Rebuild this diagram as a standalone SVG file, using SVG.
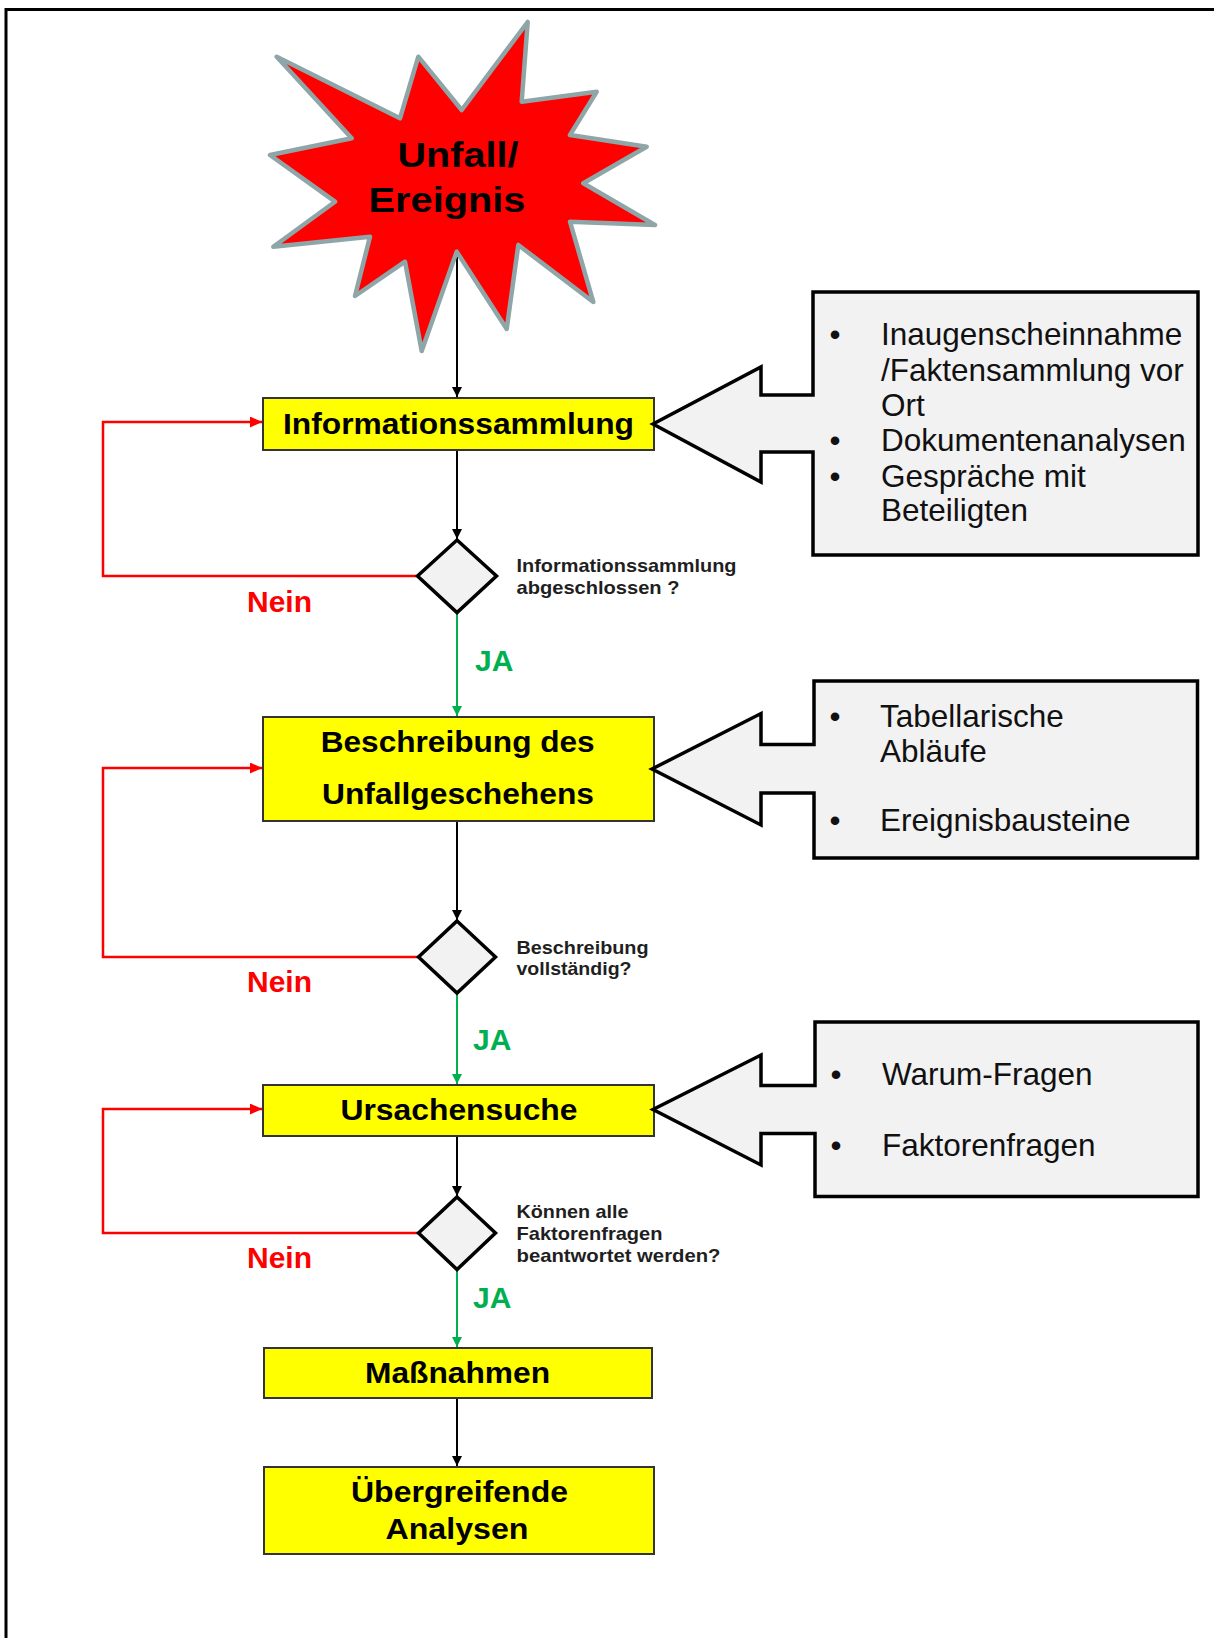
<svg xmlns="http://www.w3.org/2000/svg" width="1214" height="1638" viewBox="0 0 1214 1638">
  <style>
    text { font-family: "Liberation Sans", Arial, sans-serif; }
    .step { fill: #FFFF00; stroke: #333333; stroke-width: 2; }
    .step-label { font-weight: bold; font-size: 29px; fill: #000; text-anchor: middle; }
    .decision { fill: #F2F2F2; stroke: #000; stroke-width: 3.5; stroke-linejoin: miter; }
    .question { font-weight: bold; font-size: 18.5px; fill: #1f1f1f; }
    .callout { fill: #F2F2F2; stroke: #000; stroke-width: 3.5; stroke-linejoin: miter; }
    .note { font-size: 31.5px; fill: #111; }
    .bullet { font-size: 31.5px; fill: #111; text-anchor: middle; }
    .flow { fill: none; stroke: #000; stroke-width: 2; marker-end: url(#head-black); }
    .yes { fill: none; stroke: #00B050; stroke-width: 2; marker-end: url(#head-green); }
    .no { fill: none; stroke: #FF0000; stroke-width: 2.5; marker-end: url(#head-red); }
    .no-label { font-weight: bold; font-size: 30px; fill: #FF0000; }
    .yes-label { font-weight: bold; font-size: 30px; fill: #00B050; }
  </style>
  <defs>
    <marker id="head-black" markerUnits="userSpaceOnUse" markerWidth="10" markerHeight="10" refX="10" refY="5" orient="auto">
      <path d="M0,0 L10,5 L0,10 Z" fill="#000"/>
    </marker>
    <marker id="head-green" markerUnits="userSpaceOnUse" markerWidth="10" markerHeight="10" refX="10" refY="5" orient="auto">
      <path d="M0,0 L10,5 L0,10 Z" fill="#00B050"/>
    </marker>
    <marker id="head-red" markerUnits="userSpaceOnUse" markerWidth="12" markerHeight="11" refX="12" refY="5.5" orient="auto">
      <path d="M0,0 L12,5.5 L0,11 Z" fill="#FF0000"/>
    </marker>
  </defs>

  <rect width="1214" height="1638" fill="#FFFFFF"/>
  <!-- page frame: only top and left edges fall inside the canvas -->
  <path d="M6,1638 V9.5 H1214" fill="none" stroke="#000" stroke-width="3"/>

  <!-- connectors -->
  <g id="connectors">
    <path class="flow" d="M457,252 V397"/>
    <path class="flow" d="M457,451 V539"/>
    <path class="yes" d="M457,613 V716"/>
    <path class="flow" d="M457,822 V920"/>
    <path class="yes" d="M457,994 V1084"/>
    <path class="flow" d="M457,1137 V1196"/>
    <path class="yes" d="M457,1270 V1347"/>
    <path class="flow" d="M457,1399 V1466"/>

    <path class="no" d="M418,576 H103 V422 H262"/>
    <path class="no" d="M419,957 H103 V768 H262"/>
    <path class="no" d="M419,1233 H103 V1109 H262"/>

    <text class="no-label" x="247" y="612">Nein</text>
    <text class="no-label" x="247" y="992">Nein</text>
    <text class="no-label" x="247" y="1268">Nein</text>
    <text class="yes-label" x="475" y="671">JA</text>
    <text class="yes-label" x="473" y="1050">JA</text>
    <text class="yes-label" x="473" y="1308">JA</text>
  </g>

  <!-- start event: explosion shape -->
  <g id="start">
    <polygon points="527.7,22 521.7,101.7 596.7,91.7 570,135 646.7,146.7 583.3,183.3 655,225 570,221.7 593.3,302 518.3,245 506.7,329 456.7,251.7 421.7,351 405,261.7 355,296 370,236.7 273.3,246.7 335,201.7 270,155 351.7,138.3 276.7,56.7 400,118.3 418.3,56.7 461.7,110" fill="#FF0000" stroke="#8FA6A8" stroke-width="4.5" stroke-linejoin="round"/>
    <text x="458" y="167" font-weight="bold" font-size="35" text-anchor="middle" textLength="121" lengthAdjust="spacingAndGlyphs">Unfall/</text>
    <text x="447" y="212" font-weight="bold" font-size="35" text-anchor="middle" textLength="157" lengthAdjust="spacingAndGlyphs">Ereignis</text>
  </g>

  <g id="info">
    <rect class="step" x="263" y="398" width="391" height="52"/>
    <text class="step-label" x="458.5" y="433.5" textLength="351" lengthAdjust="spacingAndGlyphs">Informationssammlung</text>
  </g>

  <g id="info-check">
    <polygon class="decision" points="457,540 496.5,576 457,612.5 417.5,576"/>
    <text class="question" x="516.5" y="572" textLength="220" lengthAdjust="spacingAndGlyphs">Informationssammlung</text>
    <text class="question" x="516.5" y="593.5" textLength="163" lengthAdjust="spacingAndGlyphs">abgeschlossen ?</text>
  </g>

  <g id="info-methods">
    <path class="callout" d="M813,292 H1198 V555 H813 V452 H761 V482 L653,424 L761,367 V395 H813 Z"/>
    <text class="bullet" x="835" y="345">•</text>
    <text class="note" x="881" y="345">Inaugenscheinnahme</text>
    <text class="note" x="881" y="381">/Faktensammlung vor</text>
    <text class="note" x="881" y="415.5">Ort</text>
    <text class="bullet" x="835" y="450.5">•</text>
    <text class="note" x="881" y="450.5">Dokumentenanalysen</text>
    <text class="bullet" x="835" y="486.5">•</text>
    <text class="note" x="881" y="486.5">Gespräche mit</text>
    <text class="note" x="881" y="521">Beteiligten</text>
  </g>

  <g id="description">
    <rect class="step" x="263" y="717" width="391" height="104"/>
    <text class="step-label" x="457.7" y="752" textLength="274" lengthAdjust="spacingAndGlyphs">Beschreibung des</text>
    <text class="step-label" x="458" y="804" textLength="272" lengthAdjust="spacingAndGlyphs">Unfallgeschehens</text>
  </g>

  <g id="description-check">
    <polygon class="decision" points="457,921 495.5,957 457,993 418.5,957"/>
    <text class="question" x="516.5" y="953.5" textLength="132" lengthAdjust="spacingAndGlyphs">Beschreibung</text>
    <text class="question" x="516.5" y="975" textLength="115" lengthAdjust="spacingAndGlyphs">vollständig?</text>
  </g>

  <g id="description-methods">
    <path class="callout" d="M814,681 H1197.5 V858 H814 V793 H761 V825 L652,769 L761,713.5 V744.5 H814 Z"/>
    <text class="bullet" x="835" y="726.5">•</text>
    <text class="note" x="880" y="726.5">Tabellarische</text>
    <text class="note" x="880" y="761.5">Abläufe</text>
    <text class="bullet" x="835" y="831">•</text>
    <text class="note" x="880" y="831">Ereignisbausteine</text>
  </g>

  <g id="causes">
    <rect class="step" x="263" y="1085" width="391" height="51"/>
    <text class="step-label" x="459" y="1119.5" textLength="237" lengthAdjust="spacingAndGlyphs">Ursachensuche</text>
  </g>

  <g id="causes-check">
    <polygon class="decision" points="457,1197 495.5,1233 457,1269.5 418.5,1233"/>
    <text class="question" x="516.5" y="1217.5" textLength="112" lengthAdjust="spacingAndGlyphs">Können alle</text>
    <text class="question" x="516.5" y="1240" textLength="146" lengthAdjust="spacingAndGlyphs">Faktorenfragen</text>
    <text class="question" x="516.5" y="1261.5" textLength="204" lengthAdjust="spacingAndGlyphs">beantwortet werden?</text>
  </g>

  <g id="causes-methods">
    <path class="callout" d="M815,1022 H1198 V1196.5 H815 V1133.5 H761 V1165 L653,1109.5 L761,1055 V1085.5 H815 Z"/>
    <text class="bullet" x="836" y="1084.5">•</text>
    <text class="note" x="882" y="1084.5">Warum-Fragen</text>
    <text class="bullet" x="836" y="1156">•</text>
    <text class="note" x="882" y="1156">Faktorenfragen</text>
  </g>

  <g id="measures">
    <rect class="step" x="264" y="1348" width="388" height="50"/>
    <text class="step-label" x="457.5" y="1383" textLength="185" lengthAdjust="spacingAndGlyphs">Maßnahmen</text>
  </g>

  <g id="analyses">
    <rect class="step" x="264" y="1467" width="390" height="87"/>
    <text class="step-label" x="459.5" y="1502" textLength="217" lengthAdjust="spacingAndGlyphs">Übergreifende</text>
    <text class="step-label" x="457" y="1538.5" textLength="143" lengthAdjust="spacingAndGlyphs">Analysen</text>
  </g>
</svg>
